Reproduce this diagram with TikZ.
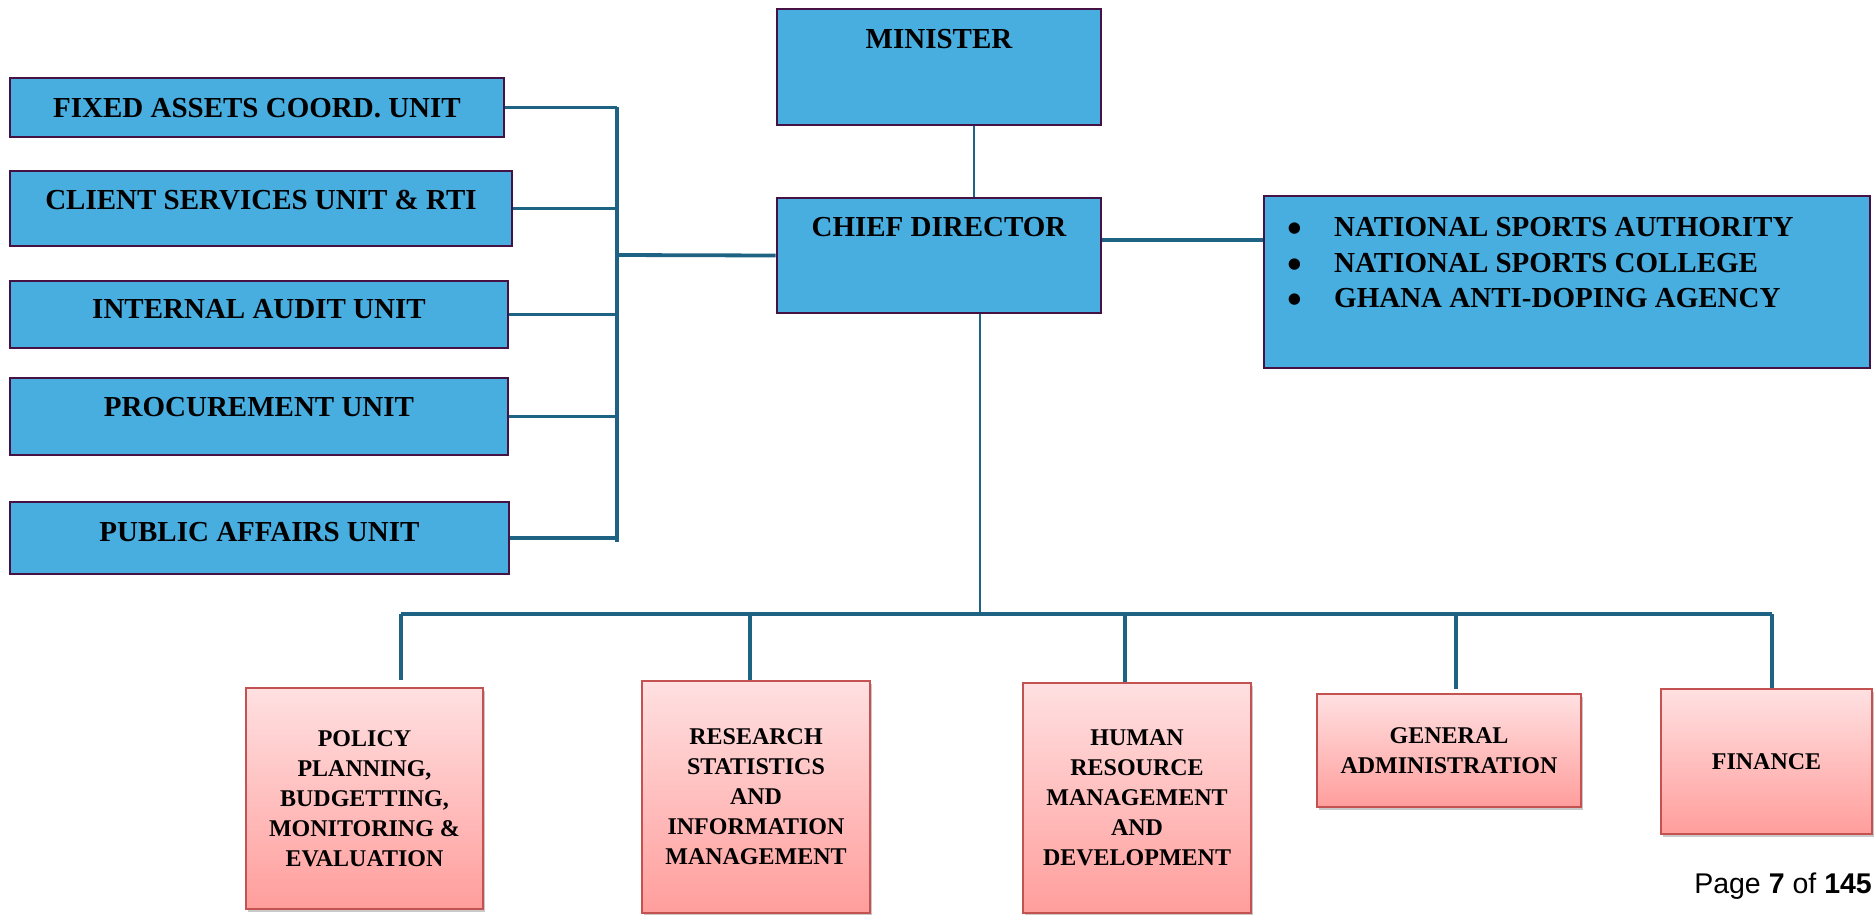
\documentclass[tikz,border=0pt]{standalone}
\usepackage{graphicx}
\usepackage{fontspec}
\setmainfont{Liberation Serif}
\newfontfamily\footfont{Liberation Sans}
\usetikzlibrary{shadows}
\definecolor{boxblue}{RGB}{72,174,224}
\definecolor{boxborder}{RGB}{70,18,68}
\definecolor{linkblue}{RGB}{30,98,132}
\definecolor{pinktop}{RGB}{255,224,225}
\definecolor{pinkbot}{RGB}{255,158,156}
\definecolor{pinkborder}{RGB}{196,82,80}
\newcommand{\bigbul}{\makebox[47pt][l]{\raisebox{-6.5pt}[0pt][0pt]{\scalebox{1.45}{•}}}}
\begin{document}
\begin{tikzpicture}[x=1pt,y=-1pt,
  bluebox/.style={draw=boxborder, line width=2.8pt, fill=boxblue, inner sep=0pt,
    font=\bfseries\fontsize{29}{35}\selectfont, text height=20pt},
  lift/.style={text depth=#1},
  pinkbox/.style={draw=pinkborder, line width=2pt, top color=pinktop, bottom color=pinkbot,
    align=center, inner sep=2pt, font=\bfseries\fontsize{24}{30}\selectfont,
    drop shadow={shadow xshift=2pt, shadow yshift=-3pt, opacity=0.3, fill=black!70}},
  listtxt/.style={font=\bfseries\fontsize{29}{35}\selectfont, anchor=base west, inner sep=0pt},
  link/.style={draw=linkblue, line width=3.8pt},
  thinlink/.style={draw=linkblue, line width=2.8pt},
]
\useasboundingbox (0,0) rectangle (1876,914);

% top nodes
\node[bluebox, lift=56.8pt, minimum width=324pt, minimum height=116pt] (minister) at (939,67) {MINISTER};
\node[bluebox, lift=57.8pt, minimum width=324pt, minimum height=115pt] (chief) at (939,255.5) {CHIEF DIRECTOR};

% left units
\node[bluebox, lift=0.8pt, minimum width=494pt, minimum height=59pt] (fixed) at (257,107.5) {FIXED ASSETS COORD. UNIT};
\node[bluebox, lift=17.8pt, minimum width=502pt, minimum height=75pt] (client) at (261,208.5) {CLIENT SERVICES UNIT \& RTI};
\node[bluebox, lift=11.8pt, minimum width=498pt, minimum height=67pt] (audit) at (259,314.5) {INTERNAL AUDIT UNIT};
\node[bluebox, lift=19.8pt, minimum width=498pt, minimum height=77pt] (procure) at (259,416.5) {PROCUREMENT UNIT};
\node[bluebox, lift=12.8pt, minimum width=499pt, minimum height=72pt] (public) at (259.5,538) {PUBLIC AFFAIRS UNIT};

% agencies
\node[bluebox, minimum width=606pt, minimum height=172pt] (agencies) at (1567,282) {};
\node[listtxt] (nsa) at (1287,236) {\bigbul NATIONAL SPORTS AUTHORITY};
\node[listtxt] (nsc) at (1287,272) {\bigbul NATIONAL SPORTS COLLEGE};
\node[listtxt] (gada) at (1287,307) {\bigbul GHANA ANTI-DOPING AGENCY};

% directorates
\node[pinkbox, minimum width=237pt, minimum height=221pt] (policy) at (364.5,798.5) {POLICY\\PLANNING,\\BUDGETTING,\\MONITORING \&\\EVALUATION};
\node[pinkbox, minimum width=228pt, minimum height=232pt] (research) at (756,796.5) {RESEARCH\\STATISTICS\\AND\\INFORMATION\\MANAGEMENT};
\node[pinkbox, minimum width=228pt, minimum height=230pt] (human) at (1137,797.5) {HUMAN\\RESOURCE\\MANAGEMENT\\AND\\DEVELOPMENT};
\node[pinkbox, minimum width=264pt, minimum height=113pt] (general) at (1449,750.5) {GENERAL\\ADMINISTRATION};
\node[pinkbox, minimum width=211pt, minimum height=145pt] (finance) at (1766.5,761.5) {FINANCE};

% footer
\node[font=\footfont\fontsize{28.5}{34}\selectfont, anchor=base east, inner sep=0pt] (page) at (1872,893) {Page \textbf{7} of \textbf{145}};

% coordinates
\coordinate (lbTop) at (617,107);
\coordinate (lbBot) at (617,542);
\coordinate (lbMid) at (617,255);
\coordinate (bL) at (401,614);
\coordinate (bC) at (980,614);
\coordinate (bR) at (1772,614);
\coordinate (bRes) at (750,614);
\coordinate (bHum) at (1125,614);
\coordinate (bGen) at (1456,614);

% connectors
\draw[thinlink] (minister.south -| 974,0) -- (chief.north -| 974,0);
\draw[link] (lbTop) -- (lbBot);
\draw[link] (fixed.east) -- (fixed.east -| lbTop);
\draw[link] (client.east) -- (client.east -| lbTop);
\draw[link] (audit.east) -- (audit.east -| lbTop);
\draw[link] (procure.east) -- (procure.east -| lbTop);
\draw[link] (public.east) -- (public.east -| lbTop);
\draw[link] (lbMid) -- (chief.west);
\draw[link] (chief.east |- 0,240) -- (agencies.west |- 0,240);
\draw[thinlink] (chief.south -| bC) -- (bC);
\draw[link] (bL) -- (bR);
\draw[link] (bL) -- ([yshift=7pt]bL |- policy.north);
\draw[link] (bRes) -- (bRes |- research.north);
\draw[link] (bHum) -- (bHum |- human.north);
\draw[link] (bGen) -- ([yshift=4pt]bGen |- general.north);
\draw[link] (bR) -- (bR |- finance.north);
\end{tikzpicture}
\end{document}
